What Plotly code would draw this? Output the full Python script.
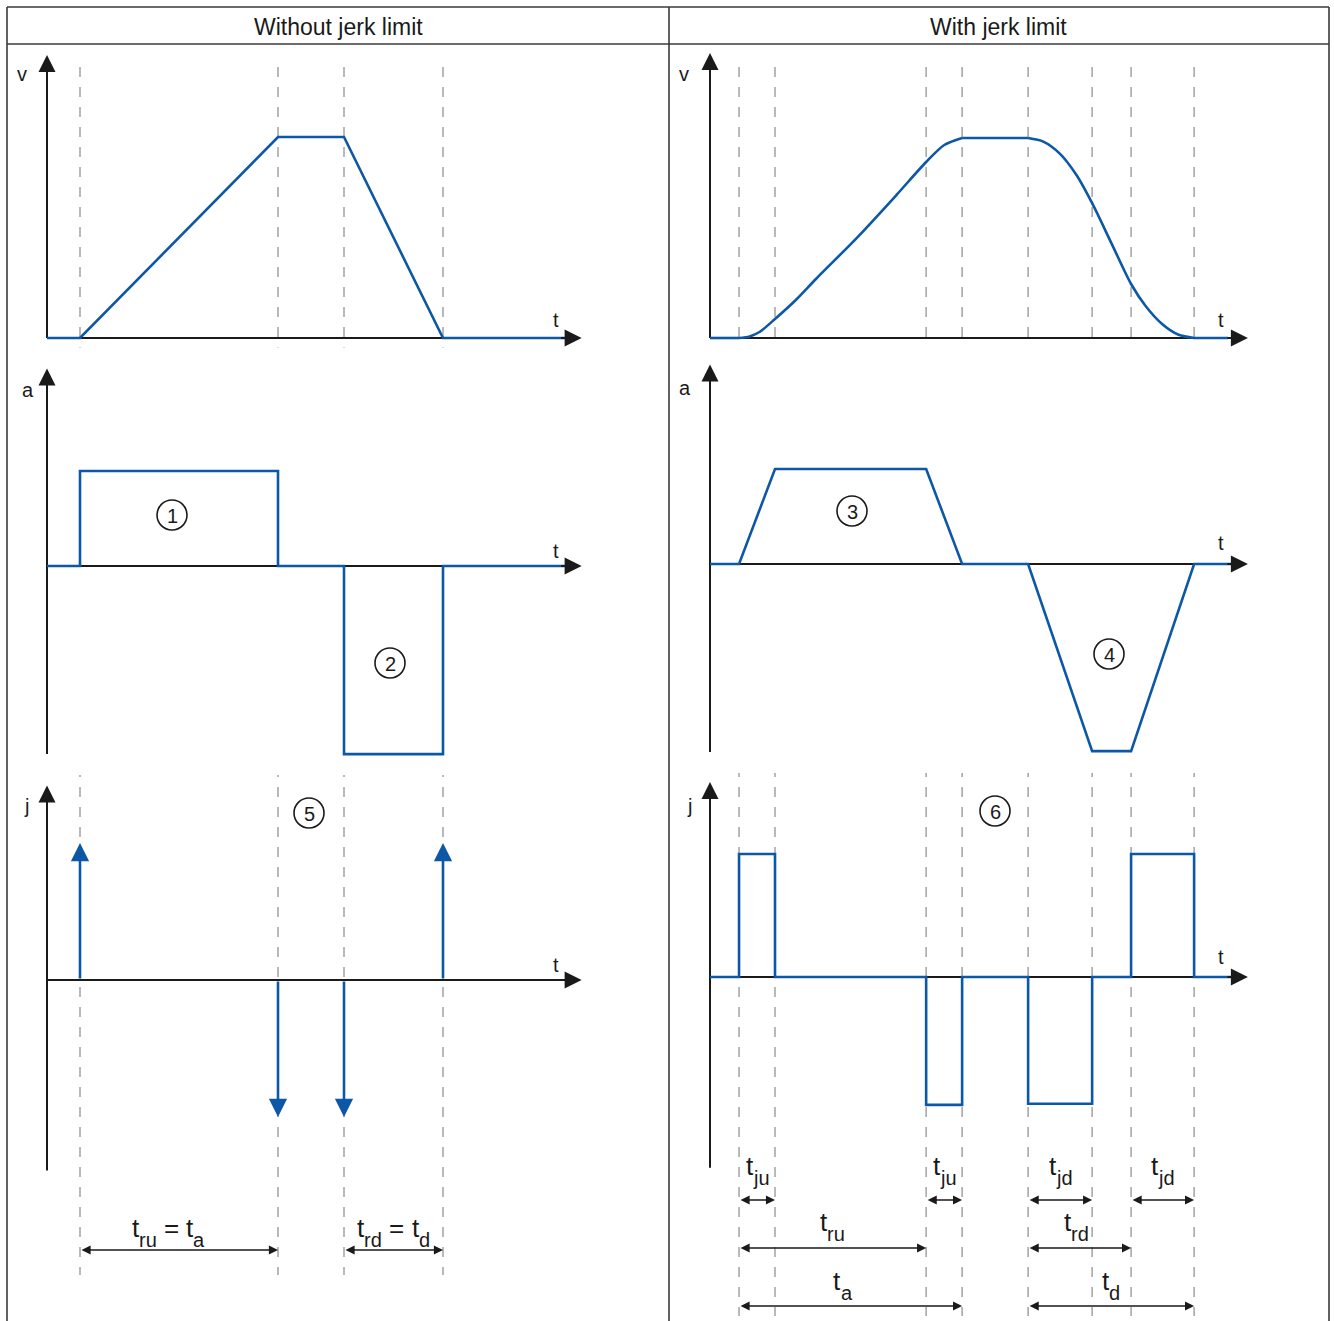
import plotly.graph_objects as go

W, H = 1334, 1321
BLUE = "#0d58a6"
BLACK = "#1a1a1a"
DASH = "#a3a3a3"
FONT = "Liberation Sans, Arial, sans-serif"

# ---------------- data: without jerk limit (left) ----------------
L_TIMES = [1.0, 7.0, 9.0, 12.0]                     # dashed reference instants
L_V_T = [0, 1.0, 7.0, 9.0, 12.0, 15.8]
L_V = [0, 0, 1.0, 1.0, 0, 0]
L_A_T = [0, 1, 1, 7, 7, 9, 9, 12, 12, 15.8]
L_A = [0, 0, 1.0, 1.0, 0, 0, -1.98, -1.98, 0, 0]
L_J_T = [1, 7, 9, 12]                               # jerk impulses
L_J = [1.0, -1.0, -1.0, 1.0]

# ---------------- data: with jerk limit (right) ----------------
R_TIMES = [0.88, 1.97, 6.55, 7.64, 9.64, 11.58, 12.76, 14.67]
R_V_RISE_T = [0.88, 1.2, 1.5, 1.97, 2.6, 3.21, 4.48, 5.65, 6.55, 7.1, 7.64]
R_V_RISE = [0, 0.008, 0.03, 0.095, 0.19, 0.295, 0.506, 0.715, 0.88, 0.965, 1.0]
R_V_FALL_T = [9.64, 10.1, 10.6, 11.1, 11.58, 12.17, 12.76, 13.2, 13.7, 14.2, 14.67]
R_V_FALL = [1.0, 0.982, 0.922, 0.816, 0.674, 0.472, 0.27, 0.16, 0.07, 0.016, 0]
R_V_FLAT_T = [0, 0.88, None, 7.64, 9.64, None, 14.67, 15.7]
R_V_FLAT = [0, 0, None, 1.0, 1.0, None, 0, 0]
R_A_T = [0, 0.88, 1.97, 6.55, 7.64, 9.64, 11.58, 12.76, 14.67, 15.8]
R_A = [0, 0, 1.0, 1.0, 0, 0, -1.97, -1.97, 0, 0]
R_J_T = [0, 0.88, 0.88, 1.97, 1.97, 6.55, 6.55, 7.64, 7.64, 9.64, 9.64,
         11.58, 11.58, 12.76, 12.76, 14.67, 14.67, 15.8]
R_J = [0, 0, 1.0, 1.0, 0, 0, -1.04, -1.04, 0, 0, -1.03, -1.03, 0, 0,
       1.0, 1.0, 0, 0]

# axis extents (time tip, value bottom, value tip) per panel
AX_L = {"v": (16.2, 0, 1.408), "a": (16.2, -1.98, 2.08), "j": (16.2, -1.39, 1.42)}
AX_R = {"v": (16.3, 0, 1.425), "a": (16.3, -1.98, 2.1), "j": (16.3, -1.55, 1.585)}

# dimension labels: (parts, start, end, row)
# part kinds: b = base text, s = subscript, g = gap
DIM_L = [([("t", "b"), ("ru", "s"), (" ", "g"), ("=", "b"), (" ", "g"), ("t", "b"), ("a", "s")], 1, 7, 0),
         ([("t", "b"), ("rd", "s"), (" ", "g"), ("=", "b"), (" ", "g"), ("t", "b"), ("d", "s")], 9, 12, 0)]
DIM_R = [([("t", "b"), ("ju", "s")], 0.88, 1.97, 0), ([("t", "b"), ("ju", "s")], 6.55, 7.64, 0),
         ([("t", "b"), ("jd", "s")], 9.64, 11.58, 0), ([("t", "b"), ("jd", "s")], 12.76, 14.67, 0),
         ([("t", "b"), ("ru", "s")], 0.88, 6.55, 1), ([("t", "b"), ("rd", "s")], 9.64, 12.76, 1),
         ([("t", "b"), ("a", "s")], 0.88, 7.64, 2), ([("t", "b"), ("d", "s")], 9.64, 14.67, 2)]

HEADERS = ["Without jerk limit", "With jerk limit"]
MARKERS = ["1", "2", "5", "3", "4", "6"]

# ---------------- layout geometry (pixels) ----------------
UNIT_X = 33.0
X_ORIG = {"L": 47.0, "R": 710.0}
X_RANGE = [-1.0, 17.5]
PANELS = {  # key: (yaxis id, origin py, px per unit, range)
    ("L", "v"): ("y", 338, 201, [-0.3, 1.5]),
    ("L", "a"): ("y2", 566, 95, [-2.2, 2.3]),
    ("L", "j"): ("y3", 980, 137, [-1.5, 1.6]),
    ("R", "v"): ("y4", 338, 200, [-0.3, 1.5]),
    ("R", "a"): ("y5", 564, 95, [-2.2, 2.3]),
    ("R", "j"): ("y6", 977, 123, [-1.7, 1.7]),
}
XID = {"L": "x", "R": "x2"}


def px2fx(px):
    return px / W


def py2fy(py):
    return 1 - py / H


fig = go.Figure()
layout = dict(width=W, height=H, autosize=False, margin=dict(l=0, r=0, t=0, b=0),
              paper_bgcolor="white", plot_bgcolor="white", showlegend=False,
              font=dict(family=FONT, color=BLACK))

for side in ("L", "R"):
    o = X_ORIG[side]
    name = "xaxis" if side == "L" else "xaxis2"
    layout[name] = dict(domain=[px2fx(o + UNIT_X * X_RANGE[0]), px2fx(o + UNIT_X * X_RANGE[1])],
                        range=X_RANGE, visible=False, fixedrange=True,
                        anchor="y" if side == "L" else "y4")
for (side, q), (yid, oy, s, rng) in PANELS.items():
    name = "yaxis" + yid[1:]
    layout[name] = dict(domain=[py2fy(oy - s * rng[0]), py2fy(oy - s * rng[1])],
                        range=rng, visible=False, fixedrange=True, anchor=XID[side])

annotations = []
shapes = []

# axis shafts (black) and arrowheads
for (side, q), (yid, oy, s, rng) in PANELS.items():
    xt, yb, yt = (AX_L if side == "L" else AX_R)[q]
    xs = xt - 8 / UNIT_X
    ys = yt - 8 / s
    fig.add_trace(go.Scatter(x=[0, xs, None, 0, 0], y=[0, 0, None, yb, ys], mode="lines",
                             line=dict(color=BLACK, width=2), xaxis=XID[side], yaxis=yid,
                             hoverinfo="skip"))
    annotations.append(dict(x=xt, y=0, ax=xt - 22 / UNIT_X, ay=0, xref=XID[side], yref=yid,
                            axref=XID[side], ayref=yid, text="", showarrow=True,
                            arrowhead=2, arrowsize=1.7, arrowwidth=2, arrowcolor=BLACK))
    annotations.append(dict(x=0, y=yt, ax=0, ay=yt - 22 / s, xref=XID[side], yref=yid,
                            axref=XID[side], ayref=yid, text="", showarrow=True,
                            arrowhead=2, arrowsize=1.7, arrowwidth=2, arrowcolor=BLACK))


def blue(x, y, xa, ya, shape="linear"):
    fig.add_trace(go.Scatter(x=x, y=y, mode="lines",
                             line=dict(color=BLUE, width=2.6, shape=shape,
                                       smoothing=0.8 if shape == "spline" else None),
                             xaxis=xa, yaxis=ya, hoverinfo="skip", connectgaps=False))


blue(L_V_T, L_V, "x", "y")
blue(L_A_T, L_A, "x", "y2")
blue(R_V_FLAT_T, R_V_FLAT, "x2", "y4")
blue(R_V_RISE_T, R_V_RISE, "x2", "y4", "spline")
blue(R_V_FALL_T, R_V_FALL, "x2", "y4", "spline")
blue(R_A_T, R_A, "x2", "y5")
blue(R_J_T, R_J, "x2", "y6")

# jerk impulses (left)
for t, j in zip(L_J_T, L_J):
    annotations.append(dict(x=t, y=j, ax=t, ay=0, xref="x", yref="y3", axref="x", ayref="y3",
                            text="", showarrow=True, arrowhead=2, arrowsize=1.4,
                            arrowwidth=2.6, arrowcolor=BLUE))

# dashed reference lines
for t in L_TIMES:
    shapes.append(dict(type="line", xref="x", yref="paper", x0=t, x1=t,
                       y0=py2fy(67), y1=py2fy(1275), layer="below",
                       line=dict(color=DASH, width=1.5, dash="10px,10px")))
for t in R_TIMES:
    shapes.append(dict(type="line", xref="x2", yref="paper", x0=t, x1=t,
                       y0=py2fy(67), y1=py2fy(1316), layer="below",
                       line=dict(color=DASH, width=1.5, dash="10px,10px")))

# frame
FRAME = "#3a3a3a"
for (x0, y0, x1, y1) in [(7, 7, 1329, 7), (7, 44, 1329, 44), (7, 7, 7, 1325),
                         (669, 7, 669, 1325), (1329, 7, 1329, 1325)]:
    shapes.append(dict(type="line", xref="paper", yref="paper", x0=px2fx(x0), x1=px2fx(x1),
                       y0=py2fy(y0), y1=py2fy(y1), line=dict(color=FRAME, width=1.6)))

for txt, cx in zip(HEADERS, [338, 999]):
    annotations.append(dict(x=px2fx(cx), y=py2fy(27), xref="paper", yref="paper", text=txt,
                            showarrow=False, font=dict(size=23, color=BLACK),
                            xanchor="center", yanchor="middle"))

# axis letters
for txt, (cx, cy) in zip(["v", "a", "j", "t", "t", "t", "v", "a", "j", "t", "t", "t"],
                         [(22, 74), (28, 390), (26, 806), (556, 320), (556, 551), (556, 965),
                          (684, 74), (685, 388), (689, 806), (1221, 320), (1221, 543), (1221, 957)]):
    annotations.append(dict(x=px2fx(cx), y=py2fy(cy), xref="paper", yref="paper", text=txt,
                            showarrow=False, font=dict(size=20, color=BLACK),
                            xanchor="center", yanchor="middle"))

# circled markers
for txt, (cx, cy) in zip(MARKERS, [(172, 515), (390, 663), (309, 813), (852, 511),
                                    (1109, 654), (995, 811)]):
    r = 15
    shapes.append(dict(type="circle", xref="paper", yref="paper", x0=px2fx(cx - r), x1=px2fx(cx + r),
                       y0=py2fy(cy + r), y1=py2fy(cy - r), line=dict(color=BLACK, width=1.6)))
    annotations.append(dict(x=px2fx(cx), y=py2fy(cy + 1), xref="paper", yref="paper", text=txt,
                            showarrow=False, font=dict(size=20, color=BLACK),
                            xanchor="center", yanchor="middle"))

# dimension arrows and labels
CW = {"t": 0.278, "r": 0.333, "u": 0.556, "j": 0.222, "d": 0.556, "a": 0.556,
      " ": 0.278, "=": 0.584}
BS, SS, SUB_DROP = 26, 20, 10
ROWS = {"L": [1250], "R": [1200, 1248, 1306]}
BASE_OFF = {"L": [13], "R": [25, 17, 16]}
NUDGE_L = [-11, 0]
NUDGE_R = [0, 0, 0, 0, 0, -3, -8, 0]

for side, dims, xa, nudges in [("L", DIM_L, "x", NUDGE_L), ("R", DIM_R, "x2", NUDGE_R)]:
    for (parts, t0, t1, row), nud in zip(dims, nudges):
        py = ROWS[side][row]
        annotations.append(dict(x=t1, y=py2fy(py), ax=t0, ay=0, xref=xa, yref="paper",
                                axref=xa, ayref="pixel", text="", showarrow=True,
                                arrowhead=2, arrowside="end+start", arrowsize=1.3,
                                arrowwidth=1.4, arrowcolor=BLACK))
        widths = [sum(CW[c] for c in txt) * (SS if k == "s" else BS) for txt, k in parts]
        xoff = -sum(widths) / 2 + nud
        baseline = py - BASE_OFF[side][row]
        for (txt, k), w in zip(parts, widths):
            if k != "g":
                size = SS if k == "s" else BS
                bl = baseline + (SUB_DROP if k == "s" else 0)
                bottom = bl + 0.212 * size + 2
                annotations.append(dict(x=(t0 + t1) / 2, y=py2fy(bottom), xref=xa, yref="paper",
                                        xshift=xoff - 2, text=txt, showarrow=False,
                                        font=dict(size=size, color=BLACK),
                                        xanchor="left", yanchor="bottom"))
            xoff += w

layout["annotations"] = annotations
layout["shapes"] = shapes
fig.update_layout(**layout)
fig.write_html("out.html", config={"displayModeBar": False, "staticPlot": True},
               post_script="document.body.style.margin='0px';")
